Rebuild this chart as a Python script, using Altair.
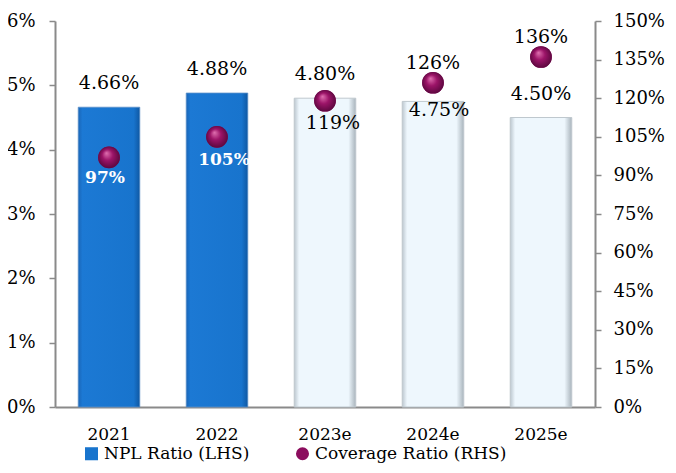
import altair as alt
import pandas as pd

years = ["2021", "2022", "2023e", "2024e", "2025e"]
npl_ratio = [4.66, 4.88, 4.80, 4.75, 4.50]          # % (LHS)
coverage_ratio = [97, 105, 119, 126, 136]            # % (RHS)
kind = ["actual", "actual", "estimate", "estimate", "estimate"]
series = ["NPL Ratio (LHS)", "Coverage Ratio (RHS)"]
left_ticks = [0, 0.01, 0.02, 0.03, 0.04, 0.05, 0.06]
right_ticks = [0, 0.15, 0.30, 0.45, 0.60, 0.75, 0.90, 1.05, 1.20, 1.35, 1.50]

df = pd.DataFrame({
    "year": years,
    "npl": [v / 100 for v in npl_ratio],
    "cov": [v / 100 for v in coverage_ratio],
    "kind": kind,
    "series": series[1],
})

FONT = "DejaVu Serif"
BLUE = "#1874cd"
MAGENTA = "#8c0d5e"

x = alt.X("year:N", sort=years, title=None,
          scale=alt.Scale(paddingInner=0.43, paddingOuter=0.215),
          axis=alt.Axis(labelAngle=0, ticks=False, labelPadding=19, labelFontSize=17,
                        domainColor="#8a8a8a", domainWidth=2))
y_left = alt.Y("npl:Q", title=None,
               scale=alt.Scale(domain=[0, 0.06], nice=False),
               axis=alt.Axis(orient="left", values=left_ticks, format=".0%",
                             tickSize=6, labelPadding=14))
y_right = alt.Y("cov:Q", title=None,
                scale=alt.Scale(domain=[0, 1.5], nice=False),
                axis=alt.Axis(orient="right", values=right_ticks, format=".0%",
                              tickSize=6, labelPadding=12))

base = alt.Chart(df)

blue_grad = {"gradient": "linear", "x1": 0, "x2": 1, "y1": 0, "y2": 0,
             "stops": [{"offset": 0, "color": "#1a66b8"},
                       {"offset": 0.07, "color": "#1c79d4"},
                       {"offset": 0.9, "color": "#1874cd"},
                       {"offset": 1, "color": "#0f58a3"}]}
white_grad = {"gradient": "linear", "x1": 0, "x2": 1, "y1": 0, "y2": 0,
              "stops": [{"offset": 0, "color": "#bcc7cf"},
                        {"offset": 0.08, "color": "#eef7fd"},
                        {"offset": 0.88, "color": "#eef7fd"},
                        {"offset": 1, "color": "#a9b4bc"}]}
ball_grad = {"gradient": "radial", "x1": 0.38, "y1": 0.3, "r1": 0,
             "x2": 0.5, "y2": 0.5, "r2": 0.55,
             "stops": [{"offset": 0, "color": "#e070b0"},
                       {"offset": 0.45, "color": "#9c1468"},
                       {"offset": 1, "color": "#55063a"}]}

bars_act = base.mark_bar(fill=blue_grad, stroke="#5b8fc8", strokeWidth=0.8).encode(
    x=x, y=y_left).transform_filter(alt.datum.kind == "actual")
bars_est = base.mark_bar(fill=white_grad, stroke="#bfc8ce", strokeWidth=1).encode(
    x=x, y=y_left).transform_filter(alt.datum.kind == "estimate")

txt = dict(font=FONT, fontSize=19, baseline="middle", color="black")
npl_above = base.mark_text(dy=-24, **txt).encode(
    x=x, y=y_left, text=alt.Text("npl:Q", format=".2%")
).transform_filter(alt.FieldOneOfPredicate(field="year", oneOf=["2021", "2022", "2023e", "2025e"]))
npl_below = base.mark_text(dy=9, dx=6, **txt).encode(
    x=x, y=y_left, text=alt.Text("npl:Q", format=".2%")
).transform_filter(alt.datum.year == "2024e")

left = alt.layer(bars_act, bars_est, npl_above, npl_below)

leg = alt.Legend(orient="none", legendX=28, legendY=424,
                 direction="horizontal", columnPadding=44,
                 symbolSize=170, labelFontSize=17, labelLimit=400,
                 labelFont=FONT, labelColor="black",
                 symbolStrokeWidth=0)
pts_legend = base.mark_point(filled=True, size=470, opacity=1).encode(
    x=x, y=y_right,
    color=alt.Color("series:N", title=None,
                    scale=alt.Scale(domain=series, range=[BLUE, MAGENTA]),
                    legend=leg),
    shape=alt.Shape("series:N", title=None,
                    scale=alt.Scale(domain=series, range=["square", "circle"]),
                    legend=leg),
)
pts = base.mark_point(filled=True, size=470, fill=ball_grad, opacity=1, strokeWidth=0).encode(
    x=x, y=y_right)

bold = dict(font=FONT, fontSize=17, fontWeight="bold", baseline="middle", color="white")
cov_white1 = base.mark_text(dy=21, dx=-4, **bold).encode(
    x=x, y=y_right, text=alt.Text("cov:Q", format=".0%")
).transform_filter(alt.datum.year == "2021")
cov_white2 = base.mark_text(dy=23, dx=7, **bold).encode(
    x=x, y=y_right, text=alt.Text("cov:Q", format=".0%")
).transform_filter(alt.datum.year == "2022")
cov_below = base.mark_text(dy=22, dx=8, **txt).encode(
    x=x, y=y_right, text=alt.Text("cov:Q", format=".0%")
).transform_filter(alt.datum.year == "2023e")
cov_above = base.mark_text(dy=-20, **txt).encode(
    x=x, y=y_right, text=alt.Text("cov:Q", format=".0%")
).transform_filter(alt.FieldOneOfPredicate(field="year", oneOf=["2024e", "2025e"]))

right = alt.layer(pts_legend, pts, cov_white1, cov_white2, cov_below, cov_above)

chart = alt.layer(left, right).resolve_scale(y="independent").properties(
    width=540, height=386,
    autosize=alt.AutoSizeParams(type="none"),
    padding={"left": 47, "top": 13, "right": 73, "bottom": 58},
).configure_view(stroke=None).configure_axis(
    labelFont=FONT, labelFontSize=18, labelColor="black",
    domainColor="#8a8a8a", domainWidth=2, tickColor="#8a8a8a", tickWidth=1.5,
    grid=False,
).configure_legend(labelLimit=400, labelFontSize=17, labelFont=FONT)

chart.save("out.html", embed_options={"renderer": "svg", "actions": False})
